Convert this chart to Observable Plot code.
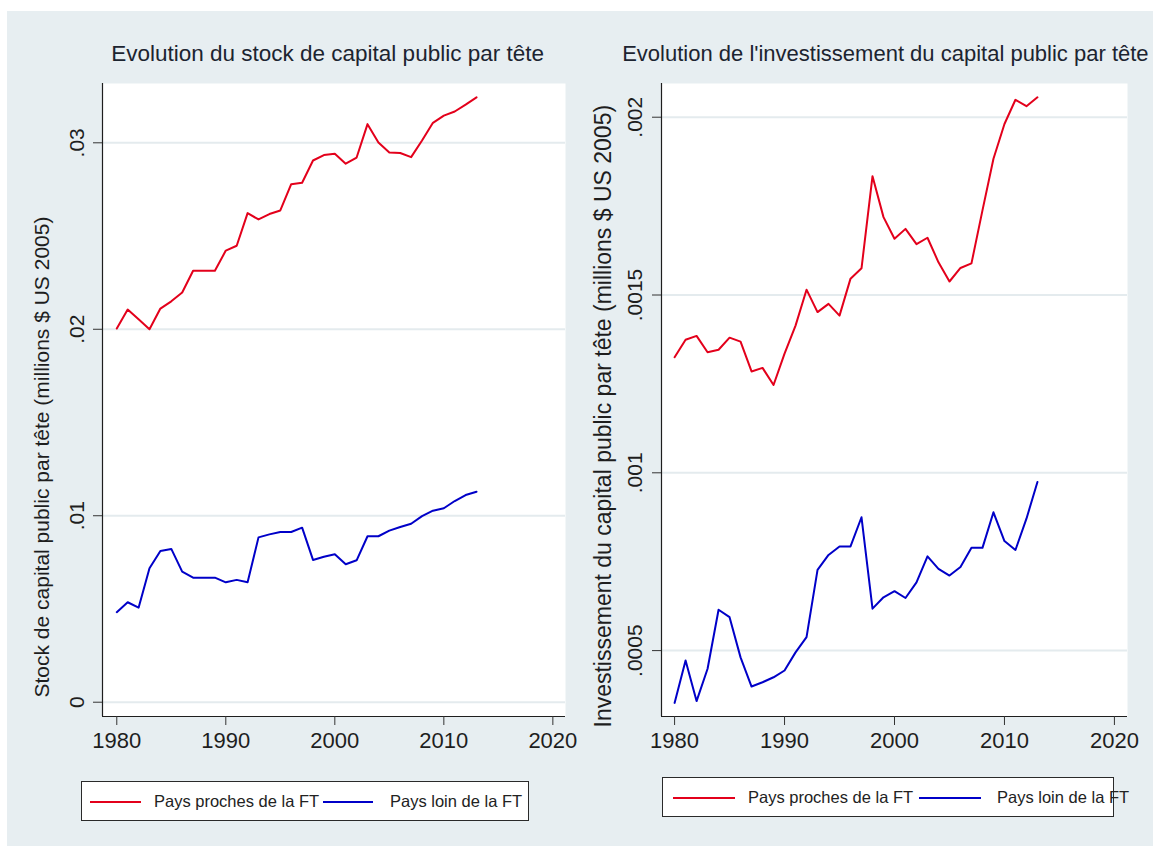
<!DOCTYPE html>
<html><head><meta charset="utf-8">
<script src="https://cdn.jsdelivr.net/npm/d3@7"></script>
<script src="https://cdn.jsdelivr.net/npm/@observablehq/plot@0.6"></script>
<style>
html,body{margin:0;padding:0;background:#fff;}
#root{position:relative;width:1153px;height:846px;overflow:hidden;background:#fff;font-family:"Liberation Sans",Arial,sans-serif;}
#bg{position:absolute;left:7px;top:11px;right:0;bottom:0;background:#e7eef1;}
.panel{position:absolute;top:0;}
.legend{position:absolute;background:#fff;border:1px solid #2a2a2a;box-sizing:border-box;font-size:16.5px;color:#222;overflow:visible;}
.legend .ln{position:absolute;height:2px;}
.legend .tx{position:absolute;white-space:nowrap;line-height:1;}
</style></head><body>
<div id="root"><div id="bg"></div></div>
<script>
// ---- data ----
const years = [1980,1981,1982,1983,1984,1985,1986,1987,1988,1989,1990,1991,1992,1993,1994,1995,1996,1997,1998,1999,2000,2001,2002,2003,2004,2005,2006,2007,2008,2009,2010,2011,2012,2013];
const seriesNames = ["Pays proches de la FT", "Pays loin de la FT"];
const seriesColors = ["#e3001b", "#0000c8"];
const stockProches = [0.02004,0.02106,0.02054,0.0200,0.02111,0.0215,0.02197,0.02314,0.02314,0.02314,0.02422,0.02448,0.02623,0.02589,0.02618,0.02637,0.02778,0.02786,0.02905,0.02934,0.02941,0.02888,0.02921,0.0310,0.03002,0.02948,0.02945,0.02923,0.03012,0.03107,0.03146,0.03168,0.03205,0.03244];
const stockLoin = [0.00483,0.00536,0.00507,0.00718,0.00811,0.00822,0.0070,0.00668,0.00668,0.00668,0.00643,0.00656,0.00643,0.00884,0.009,0.00913,0.00913,0.00936,0.00763,0.0078,0.00793,0.0074,0.00761,0.0089,0.0089,0.0092,0.0094,0.00957,0.00998,0.01027,0.0104,0.01079,0.01111,0.01129];
const invProches = [0.001325,0.001374,0.001385,0.001339,0.001346,0.00138,0.001369,0.001285,0.001295,0.001247,0.001335,0.001414,0.001515,0.001452,0.001475,0.001442,0.001546,0.001575,0.001834,0.001719,0.001658,0.001686,0.001643,0.001661,0.001592,0.001538,0.001576,0.001589,0.001738,0.001883,0.001981,0.002049,0.002031,0.002056];
const invLoin = [0.000353,0.000472,0.000358,0.000449,0.000615,0.000594,0.000481,0.000399,0.000411,0.000425,0.000444,0.000495,0.000538,0.000727,0.000769,0.000793,0.000793,0.000875,0.000618,0.00065,0.000667,0.000648,0.000692,0.000765,0.00073,0.000711,0.000735,0.000789,0.000789,0.000889,0.000808,0.000783,0.000871,0.000974];
const xTicks = [1980,1990,2000,2010,2020];
const stockTicks = [0,0.01,0.02,0.03];
const stockTickLabels = ["0",".01",".02",".03"];
const invTicks = [0.0005,0.001,0.0015,0.002];
const invTickLabels = [".0005",".001",".0015",".002"];
const titleStock = "Evolution du stock de capital public par tête";
const titleInv = "Evolution de l'investissement du capital public par tête";
const yLabelStock = "Stock de capital public par tête (millions $ US 2005)";
const yLabelInv = "Investissement du capital public par tête (millions $ US 2005)";

function rows(a, b) {
  return [
    ...years.map((yr, i) => ({year: yr, value: a[i], series: seriesNames[0]})),
    ...years.map((yr, i) => ({year: yr, value: b[i], series: seriesNames[1]}))
  ];
}

const FONT = "Liberation Sans, Arial, sans-serif";
const GRID = "#e4ebee";
const INK = "#1e1e1e";

function panel(o) {
  const tickLab = new Map(o.yTicks.map((t, i) => [t, o.yTickLabels[i]]));
  return Plot.plot({
    width: o.width, height: 760,
    marginTop: 83, marginBottom: 44, marginLeft: o.marginLeft, marginRight: o.marginRight,
    style: {background: "transparent", overflow: "visible", fontFamily: FONT, color: INK},
    x: {domain: o.xDomain, axis: null},
    y: {domain: o.yDomain, axis: null},
    color: {domain: seriesNames, range: seriesColors},
    marks: [
      Plot.frame({fill: "white", stroke: null}),
      Plot.gridY(o.yTicks, {stroke: GRID, strokeOpacity: 1, strokeWidth: 2}),
      Plot.lineY(o.data, {x: "year", y: "value", stroke: "series", strokeWidth: 2}),
      Plot.ruleX([o.xDomain[0]], {stroke: INK, strokeWidth: 1.2}),
      Plot.ruleY([o.yDomain[0]], {stroke: INK, strokeWidth: 1.2}),
      Plot.axisY({ticks: o.yTicks, tickSize: 9, tickFormat: () => "", label: null, stroke: "#333"}),
      Plot.text(o.yTicks, {y: d => d, text: d => tickLab.get(d), frameAnchor: "left", dx: o.yTickDx, rotate: -90, textAnchor: "middle", lineAnchor: "middle", fontSize: 21, fill: INK}),
      Plot.axisX({ticks: xTicks, tickSize: 9, tickPadding: 7, tickFormat: d => String(d), label: null, fontSize: 22, stroke: "#333", fill: INK}),
      Plot.text([o.yLabel], {frameAnchor: "bottom-left", dx: o.yLabelDx, dy: o.yLabelDy, rotate: -90, textAnchor: "start", lineAnchor: "middle", fontSize: o.yLabelSize, fill: INK}),
      Plot.text([o.title], {frameAnchor: "top-left", dx: o.titleDx, dy: -23, textAnchor: "start", lineAnchor: "bottom", fontSize: o.titleSize, fill: "#1c2430"})
    ]
  });
}

const root = document.getElementById("root");

const left = panel({
  data: rows(stockProches, stockLoin), width: 580, marginLeft: 102, marginRight: 15,
  xDomain: [1978.69, 2021.16], yDomain: [-0.000766, 0.03318],
  yTicks: stockTicks, yTickLabels: stockTickLabels, yTickDx: -25.3,
  yLabel: yLabelStock, yLabelDx: -60, yLabelDy: -19, yLabelSize: 21,
  title: titleStock, titleDx: 8.7, titleSize: 22.5
});
const right = panel({
  data: rows(invProches, invLoin), width: 573, marginLeft: 81, marginRight: 26,
  xDomain: [1978.81, 2021.19], yDomain: [0.0003147, 0.0020948],
  yTicks: invTicks, yTickLabels: invTickLabels, yTickDx: -26,
  yLabel: yLabelInv, yLabelDx: -58, yLabelDy: 11, yLabelSize: 23,
  title: titleInv, titleDx: -39.3, titleSize: 22
});

function place(el, x) {
  const d = document.createElement("div");
  d.className = "panel";
  d.style.left = x + "px";
  d.appendChild(el);
  root.appendChild(d);
}
place(left, 0);
place(right, 580);

function legend(cfg) {
  const box = document.createElement("div");
  box.className = "legend";
  Object.assign(box.style, {left: cfg.left + "px", top: cfg.top + "px", width: cfg.width + "px", height: cfg.height + "px"});
  cfg.items.forEach((it, i) => {
    const ln = document.createElement("div");
    ln.className = "ln";
    Object.assign(ln.style, {left: it.lineX + "px", width: it.lineW + "px", top: (cfg.mid - 1) + "px", background: seriesColors[i]});
    const tx = document.createElement("div");
    tx.className = "tx";
    tx.textContent = seriesNames[i];
    Object.assign(tx.style, {left: it.textX + "px", top: (cfg.mid - 9) + "px"});
    box.appendChild(ln); box.appendChild(tx);
  });
  root.appendChild(box);
}
legend({left: 81, top: 781, width: 448, height: 40, mid: 20,
  items: [{lineX: 8, lineW: 51, textX: 72}, {lineX: 241, lineW: 50, textX: 308}]});
legend({left: 662, top: 777, width: 452, height: 40, mid: 20,
  items: [{lineX: 10, lineW: 62, textX: 85}, {lineX: 256, lineW: 62, textX: 334}]});
</script>
</body></html>
